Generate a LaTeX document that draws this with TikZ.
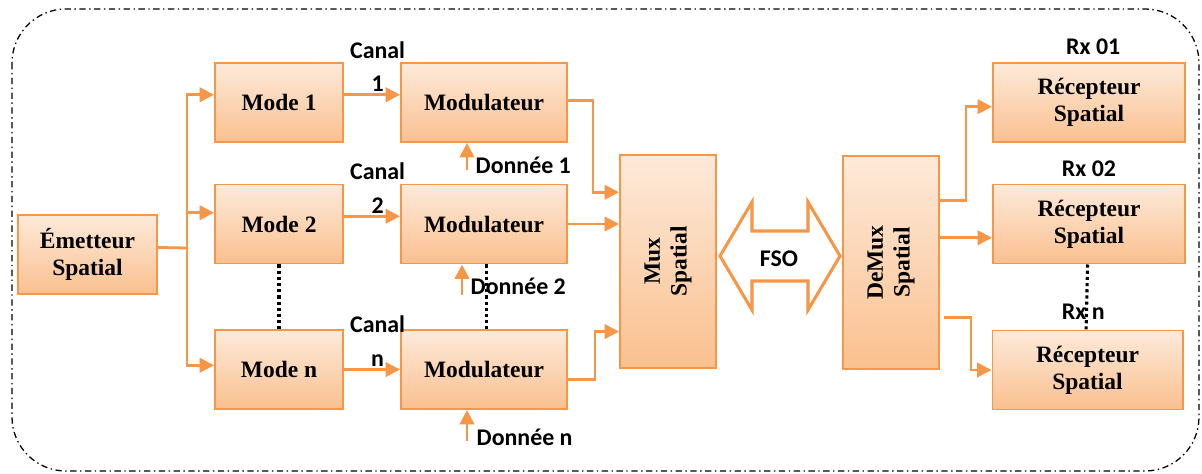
\documentclass[tikz,border=0pt]{standalone}
\usepackage{fontspec}
\setmainfont{Liberation Serif}
\newfontfamily\lblfont{Carlito}
\usetikzlibrary{arrows.meta,positioning,calc}
\definecolor{cLine}{HTML}{F79646}
\definecolor{cTop}{HTML}{FDEADA}
\definecolor{cBot}{HTML}{FAC08F}
\tikzset{
  blk/.style={draw=cLine, line width=1.4pt, top color=cTop, bottom color=cBot,
              align=center, font=\fontsize{16.7}{19}\selectfont\bfseries,
              inner sep=2pt, minimum height=1.975cm},
  flow/.style={-{Triangle[length=3.6mm,width=3.6mm]}, line width=2pt, draw=cLine},
  lbl/.style={font=\lblfont\bfseries\fontsize{17}{24}\selectfont, align=center, inner sep=1pt},
  dots/.style={line width=2.2pt, dash pattern=on 2.2pt off 2.2pt},
  frame/.style={draw=black, line width=0.9pt, rounded corners=1.35cm,
                dash pattern=on 4.5pt off 2.5pt on 1pt off 2.5pt},
  fso/.style={draw=cLine, line width=2.2pt, fill=white, line join=miter},
}
\begin{document}
\begin{tikzpicture}[x=0.025cm, y=-0.025cm]
  \useasboundingbox (0,0) rectangle (1202,473);
  \draw[frame] (12,9) rectangle (1199,471);
  % emitter, modes and modulators
  \node[blk, minimum width=3.475cm] (em) at (87.5,254.5) {Émetteur\\Spatial};
  \node[blk, minimum width=3.2cm] (mode1) at (279,102.5) {Mode 1};
  \node[blk, minimum width=3.2cm] (mode2) at (279,224) {Mode 2};
  \node[blk, minimum width=3.2cm] (moden) at (279,369.5) {Mode n};
  \node[blk, minimum width=4.15cm, right=1.4cm of mode1] (mod1) {Modulateur};
  \node[blk, minimum width=4.15cm, right=1.4cm of mode2] (mod2) {Modulateur};
  \node[blk, minimum width=4.15cm, right=1.4cm of moden] (modn) {Modulateur};
  % spatial mux / demux
  \node[blk, minimum width=2.4cm, minimum height=5.325cm] (mux) at (668,261.5)
    {\rotatebox{90}{\begin{tabular}{@{}c@{}}Mux\\Spatial\end{tabular}}};
  \node[blk, minimum width=2.4cm, minimum height=5.325cm] (demux) at (891,262.5)
    {\rotatebox{90}{\begin{tabular}{@{}c@{}}DeMux\\Spatial\end{tabular}}};
  % receivers
  \node[blk, minimum width=4.8cm] (rec1) at (1089,102.5) {Récepteur\\Spatial};
  \node[blk, minimum width=4.8cm] (rec2) at (1089,224) {Récepteur\\Spatial};
  \node[blk, minimum width=4.75cm] (recn) at (1087.5,370) {Récepteur\\Spatial};
  \node[lbl, above=4pt of rec1, xshift=3pt] (rx1) {Rx 01};
  \node[lbl, above=4pt of rec2] (rx2) {Rx 02};
  \node[lbl, above=6pt of recn, xshift=-3pt] (rxn) {Rx n};
  % fan-out to the modes
  \coordinate (bus) at (187,248);
  \draw[flow, -] ([yshift=5pt]em.east) -- (bus);
  \draw[flow] (bus) |- ([yshift=5.5pt]mode1.west);
  \draw[flow] (bus) |- ([yshift=8pt]mode2.west);
  \draw[flow] (bus) |- ([yshift=3pt]moden.west);
  % channels
  \draw[flow] ([yshift=5.5pt]mode1.east) -- node[lbl, above, pos=0.6] (can1) {Canal\\1} ([yshift=5.5pt]mod1.west);
  \draw[flow] ([yshift=5.5pt]mode2.east) -- node[lbl, above, pos=0.6] (can2) {Canal\\2} ([yshift=5.5pt]mod2.west);
  \draw[flow] (moden.east) -- node[lbl, above, pos=0.6] (cann) {Canal\\n} (modn.west);
  % data inputs
  \coordinate (in1) at (467,170);
  \coordinate (in2) at (462,295);
  \coordinate (inn) at (467,441);
  \draw[flow] (in1) -- (in1 |- mod1.south);
  \draw[flow] (in2) -- (in2 |- mod2.south);
  \draw[flow] (inn) -- (inn |- modn.south);
  \node[lbl, anchor=west] (don1) at (474,165) {Donnée 1};
  \node[lbl, anchor=west] (don2) at (469,286) {Donnée 2};
  \node[lbl, anchor=west] (donn) at (475,437) {Donnée n};
  % into the mux
  \draw[flow] ([yshift=1.4pt]mod1.east) -- ++(25,0) |- ($(mux.north west)!0.178!(mux.south west)$);
  \draw[flow] (mod2.east) -- (mod2.east -| mux.west);
  \draw[flow] ([yshift=-7pt]modn.east) -- ++(27,0) |- ($(mux.north west)!0.826!(mux.south west)$);
  % free-space link
  \draw[fso] (720,256) -- (752,202) -- (752,231) -- (808,231) -- (808,202) -- (840,256)
    -- (808,310) -- (808,281) -- (752,281) -- (752,310) -- cycle;
  \node[lbl] (link) at (779,259) {FSO};
  % out of the demux
  \coordinate (dm1) at ($(demux.north east)!0.21!(demux.south east)$);
  \coordinate (dm2) at ($(demux.north east)!0.385!(demux.south east)$);
  \coordinate (dm3) at ($(demux.north east)!0.756!(demux.south east)+(4,0)$);
  \draw[flow] (dm1) -- ++(26,0) |- ([yshift=-3pt]rec1.west);
  \draw[flow] (dm2) -- (dm2 -| rec2.west);
  \draw[flow] (dm3) -- ++(27,0) |- (recn.west);
  % elided branches
  \draw[dots] (mode2.south) -- (moden.north);
  \draw[dots] ([xshift=2pt]mod2.south) -- ([xshift=2pt]modn.north);
  \draw[dots] ([xshift=-1pt]rec2.south) -- ([xshift=-1pt]recn.north);
\end{tikzpicture}
\end{document}
